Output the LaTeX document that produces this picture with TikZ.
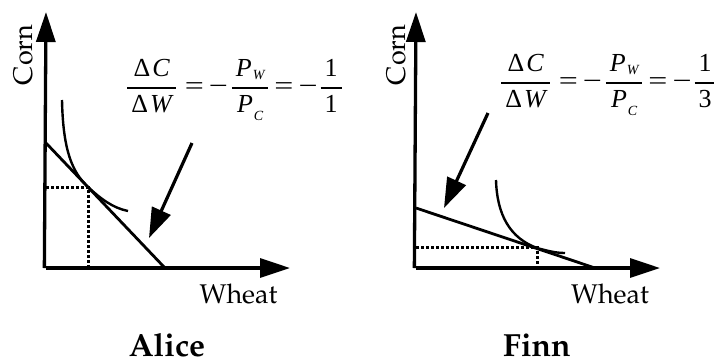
\documentclass[tikz,border=0pt]{standalone}
\usepackage[no-math]{fontspec}
\usepackage[T1]{fontenc}
\usepackage{mathpazo}
\usetikzlibrary{arrows.meta}
\newfontfamily\tms{Liberation Serif}
\newcommand\mt[1]{\mbox{\tms #1}}
\newcommand\mi[1]{\mbox{\tms\itshape #1}}
\newcommand\mw[1]{\scalebox{1.3}[1]{\tms #1}}
\newcommand\msub[2]{\raisebox{#1}{\tms\itshape\fontsize{14}{14}\selectfont #2}}
\newcommand\econfrac[2]{{\frac{\hspace{4pt}#1\hspace{4pt}}{\hspace{4pt}#2\hspace{4pt}}}}
\newcommand\econformula[1]{$\displaystyle\nulldelimiterspace=0pt
  \econfrac{\mt{Δ}\hspace{2pt}\mi{C}}{\mt{Δ}\hspace{2pt}\mi{W}}\hspace{9pt}\mw{=}\hspace{5pt}\mw{−}\hspace{4pt}%
  \econfrac{\mi{P}\kern1pt\msub{-3pt}{W}}{\mi{P}\kern1pt\msub{-8pt}{C}}\hspace{6pt}\mw{=}\hspace{5pt}\mw{−}\hspace{3pt}%
  \econfrac{\mt{1}}{\mt{#1}}$}
\begin{document}
\begin{tikzpicture}[x=1pt,y=-1pt,
  axis/.style={line width=3.3pt,-{Triangle[length=30pt,width=19pt]}},
  budget/.style={line width=2.8pt},
  indiff/.style={line width=2.4pt},
  dots/.style={line width=3pt,dash pattern=on 3pt off 2pt},
  pointer/.style={line width=3.2pt,-{Triangle[length=30pt,width=20pt]}},
  lbl/.style={font=\fontsize{27}{31}\selectfont,inner sep=0pt,anchor=base},
  whoname/.style={font=\fontsize{32}{36}\selectfont\bfseries,inner sep=0pt,anchor=base},
  formula/.style={font=\fontsize{26}{30}\selectfont,inner sep=0pt,anchor=base}]
\useasboundingbox (0,0) rectangle (714,362);
% ---------- Alice ----------
\coordinate (aO) at (46,268);
\coordinate (aY) at (46,12);
\coordinate (aX) at (290,268);
\draw[axis] (44.35,268) -- (aY);
\draw[axis] (aO) -- (aX);
\coordinate (aB1) at (46,143);
\coordinate (aB2) at (165,268);
\draw[budget] (aB1) -- (aB2);
\coordinate (aC1) at (62,100);
\coordinate (aT) at (88,187);
\coordinate (aC2) at (128,211);
\draw[indiff] (aC1) .. controls (63,150) and (72,172) .. (aT) .. controls (101,199) and (113,208) .. (aC2);
\coordinate (aTx) at (88,268);
\coordinate (aTy) at (46,187);
\draw[dots] (aTy) -- (aT) -- (aTx);
\coordinate (aP1) at (192,143);
\coordinate (aP2) at (149,238);
\draw[pointer] (aP1) -- (aP2);
\node[formula] (aF) at (234.5,94.5) {\econformula{1}};
\node[lbl,rotate=90] (aCorn) at (32,55) {Corn};
\node[lbl] (aWheat) at (238.5,303) {Wheat};
\node[whoname] (aName) at (167,356) {Alice};
% ---------- Finn ----------
\coordinate (fO) at (416,268);
\coordinate (fY) at (416,12);
\coordinate (fX) at (660,268);
\draw[axis] (414.35,268) -- (fY);
\draw[axis] (fO) -- (fX);
\coordinate (fB1) at (416,208);
\coordinate (fB2) at (595,268);
\draw[budget] (fB1) -- (fB2);
\coordinate (fC1) at (496,180);
\coordinate (fT) at (537,248);
\coordinate (fC2) at (565,253);
\draw[indiff] (fC1) .. controls (497,215) and (510,238) .. (fT) .. controls (548,251) and (556,253) .. (fC2);
\coordinate (fTx) at (537,268);
\coordinate (fTy) at (416,247);
\coordinate (fTd) at (537,247);
\draw[dots] (fTy) -- (fTd) -- (fTx);
\coordinate (fP1) at (488,113);
\coordinate (fP2) at (444,208);
\draw[pointer] (fP1) -- (fP2);
\node[formula] (fF) at (608.5,89.5) {\econformula{3}};
\node[lbl,rotate=90] (fCorn) at (405,55) {Corn};
\node[lbl] (fWheat) at (610,303) {Wheat};
\node[whoname] (fName) at (537,356) {Finn};
\end{tikzpicture}
\end{document}
